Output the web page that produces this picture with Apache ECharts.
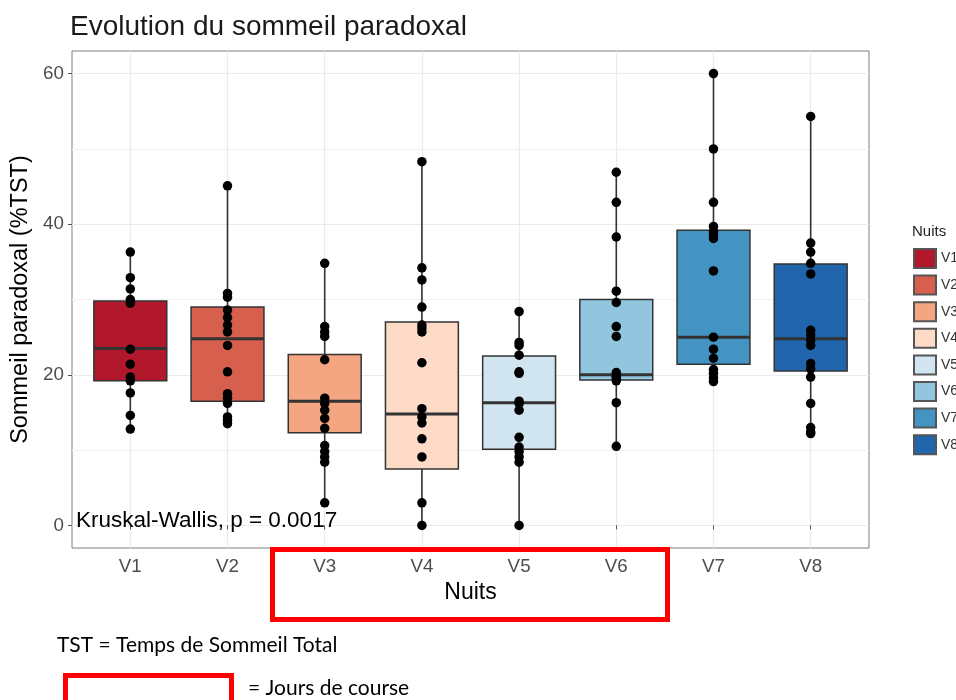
<!DOCTYPE html>
<html>
<head>
<meta charset="utf-8">
<title>Evolution du sommeil paradoxal</title>
<script src="https://cdn.jsdelivr.net/npm/echarts@6/dist/echarts.min.js"></script>
<style>
  html, body { margin: 0; padding: 0; background: #fff; }
  #chart { width: 956px; height: 700px; }
</style>
</head>
<body>
<div id="chart"></div>
<script>
// nuits + palette RdBu
const nights = ['V1', 'V2', 'V3', 'V4', 'V5', 'V6', 'V7', 'V8']
const fills = ['#b2182b', '#d6604d', '#f4a582', '#fddbc7', '#d1e5f0', '#92c5de', '#4393c3', '#2166ac']
const yTicks = [0, 20, 40, 60]
const yMinorTicks = [10, 30, 50]

// boites : [min, Q1, mediane, Q3, max]
const boxV1 = [12.8, 19.2, 23.5, 29.8, 36.3]
const boxV2 = [13.5, 16.5, 24.8, 29.0, 45.1]
const boxV3 = [3.0, 12.3, 16.5, 22.7, 34.8]
const boxV4 = [0, 7.5, 14.8, 27.0, 48.3]
const boxV5 = [0, 10.1, 16.3, 22.5, 28.4]
const boxV6 = [10.5, 19.3, 20.0, 30.0, 46.9]
const boxV7 = [19.1, 21.4, 25.0, 39.2, 60.0]
const boxV8 = [12.2, 20.5, 24.8, 34.7, 54.3]

// points individuels (%TST)
const ptsV1 = [36.3, 32.9, 31.4, 30.0, 29.5, 23.4, 21.4, 19.7, 19.2, 17.6, 14.6, 12.8]
const ptsV2 = [45.1, 30.8, 30.3, 28.6, 27.6, 26.6, 25.7, 23.9, 20.4, 17.5, 16.9, 16.2, 14.4, 14.0, 13.5]
const ptsV3 = [34.8, 26.4, 25.7, 25.1, 22.0, 16.9, 16.2, 15.3, 14.2, 12.9, 10.6, 9.8, 9.1, 8.4, 3.0]
const ptsV4 = [48.3, 34.2, 32.6, 29.0, 26.6, 26.2, 25.7, 21.6, 15.5, 14.4, 13.6, 11.5, 9.1, 3.0, 0]
const ptsV5 = [28.4, 24.3, 23.9, 22.6, 20.4, 20.2, 16.5, 16.2, 15.3, 11.7, 10.4, 9.8, 9.1, 8.4, 0]
const ptsV6 = [46.9, 42.9, 38.3, 31.1, 29.6, 26.4, 25.1, 20.3, 19.8, 19.5, 19.2, 16.3, 10.5]
const ptsV7 = [60.0, 50.0, 42.9, 39.7, 39.0, 38.6, 38.1, 33.8, 25.0, 23.4, 22.2, 20.7, 20.2, 19.6, 19.1]
const ptsV8 = [54.3, 37.5, 36.3, 34.8, 33.4, 25.9, 25.3, 24.6, 23.9, 21.5, 20.8, 19.7, 16.2, 13.0, 12.4, 12.2]

const boxes = [boxV1, boxV2, boxV3, boxV4, boxV5, boxV6, boxV7, boxV8]
const points = [ptsV1, ptsV2, ptsV3, ptsV4, ptsV5, ptsV6, ptsV7, ptsV8]
const xPos = nights.map((n, i) => i + 1)

const FONT = '"Liberation Sans", Arial, sans-serif'

// dessin d'une boite facon ggplot (pas de barres aux extremites)
function renderBox(params, api) {
  const x = api.value(0)
  const half = api.size([0.75, 0])[0] / 2
  const pMin = api.coord([x, api.value(1)])
  const pQ1 = api.coord([x, api.value(2)])
  const pMed = api.coord([x, api.value(3)])
  const pQ3 = api.coord([x, api.value(4)])
  const pMax = api.coord([x, api.value(5)])
  const line = { stroke: '#333', lineWidth: 1.6 }
  return {
    type: 'group',
    children: [
      { type: 'line', shape: { x1: pMin[0], y1: pMin[1], x2: pQ1[0], y2: pQ1[1] }, style: line },
      { type: 'line', shape: { x1: pQ3[0], y1: pQ3[1], x2: pMax[0], y2: pMax[1] }, style: line },
      {
        type: 'rect',
        shape: { x: pQ3[0] - half, y: pQ3[1], width: half * 2, height: pQ1[1] - pQ3[1] },
        style: { fill: api.visual('color'), stroke: '#333', lineWidth: 1.5 }
      },
      { type: 'line', shape: { x1: pMed[0] - half, y1: pMed[1], x2: pMed[0] + half, y2: pMed[1] }, style: { stroke: '#333', lineWidth: 3 } }
    ]
  }
}

const boxSeries = nights.map((n, i) => ({
  name: n,
  type: 'custom',
  renderItem: renderBox,
  itemStyle: { color: fills[i], borderColor: '#555', borderWidth: 1.5 },
  encode: { x: 0, y: [1, 2, 3, 4, 5] },
  data: [[xPos[i]].concat(boxes[i])],
  z: 2
}))

const dotData = []
points.forEach((arr, i) => arr.forEach(v => dotData.push([xPos[i], v])))

let myChart = echarts.init(document.getElementById('chart'), null, { renderer: 'canvas' })
myChart.setOption({
  animation: false,
  backgroundColor: '#fff',
  title: [
    {
      text: 'Evolution du sommeil paradoxal',
      left: 70, top: 13, padding: 0,
      textStyle: { fontFamily: FONT, fontSize: 28, fontWeight: 'normal', color: '#1a1a1a' }
    },
    {
      text: 'Nuits',
      left: 912, top: 224, padding: 0,
      textStyle: { fontFamily: FONT, fontSize: 15, fontWeight: 'normal', color: '#222' }
    }
  ],
  legend: {
    data: nights,
    orient: 'vertical',
    left: 913, top: 248, padding: 0,
    itemWidth: 22, itemHeight: 19, itemGap: 5.6,
    icon: 'rect',
    selectedMode: false,
    textStyle: { fontFamily: FONT, fontSize: 14, color: '#333' }
  },
  grid: {
    left: 72, top: 51, width: 797, height: 497,
    show: true, borderColor: '#7f7f7f', borderWidth: 1, backgroundColor: 'transparent'
  },
  xAxis: {
    type: 'value', min: 0.4, max: 8.6,
    axisLine: { show: false },
    axisTick: { customValues: xPos, length: 4, lineStyle: { color: '#555' } },
    axisLabel: {
      customValues: xPos,
      formatter: v => nights[Math.round(v) - 1],
      color: '#4d4d4d', fontSize: 18.8, fontFamily: FONT, margin: 9
    },
    splitLine: { show: true, lineStyle: { color: '#ebebeb', width: 1.2 } },
    name: 'Nuits', nameLocation: 'middle', nameGap: 33,
    nameTextStyle: { fontFamily: FONT, fontSize: 23, color: '#000' }
  },
  yAxis: [
    {
      type: 'value', min: -3, max: 63,
      axisLine: { show: false },
      axisTick: { customValues: yTicks, length: 4, lineStyle: { color: '#555' } },
      axisLabel: { customValues: yTicks, color: '#4d4d4d', fontSize: 18.8, fontFamily: FONT, margin: 8 },
      splitLine: { show: true, lineStyle: { color: '#ebebeb', width: 1.2 } },
      name: 'Sommeil paradoxal (%TST)', nameLocation: 'middle', nameGap: 38,
      nameTextStyle: { fontFamily: FONT, fontSize: 23.5, color: '#000' }
    },
    {
      // lignes secondaires 10 / 30 / 50
      type: 'value', min: -3, max: 63, position: 'left',
      axisLine: { show: false },
      axisTick: { show: false, customValues: yMinorTicks },
      axisLabel: { show: false },
      splitLine: { show: true, lineStyle: { color: '#f1f1f1', width: 1 } }
    }
  ],
  series: boxSeries.concat([
    {
      name: 'points',
      type: 'scatter',
      data: dotData,
      symbolSize: 9.5,
      itemStyle: { color: '#000', opacity: 1 },
      z: 5
    }
  ]),
  graphic: [
    {
      type: 'text', z: 100,
      style: { text: 'Kruskal-Wallis, p = 0.0017', x: 76, y: 509, font: '22.5px "Liberation Sans", Arial', fill: '#000' }
    },
    {
      type: 'rect', z: 100,
      shape: { x: 272.5, y: 549.5, width: 395, height: 70 },
      style: { fill: 'none', stroke: '#ff0000', lineWidth: 5 }
    },
    {
      type: 'text', z: 100,
      style: { text: 'TST = Temps de Sommeil Total', x: 57, y: 645, textVerticalAlign: 'middle', font: '21px Lato, "Open Sans", sans-serif', fill: '#000' }
    },
    {
      type: 'rect', z: 100,
      shape: { x: 65.5, y: 675.5, width: 166, height: 40 },
      style: { fill: 'none', stroke: '#ff0000', lineWidth: 5 }
    },
    {
      type: 'text', z: 100,
      style: { text: '= Jours de course', x: 248, y: 688, textVerticalAlign: 'middle', font: '21px Lato, "Open Sans", sans-serif', fill: '#000' }
    }
  ]
})
</script>
</body>
</html>
